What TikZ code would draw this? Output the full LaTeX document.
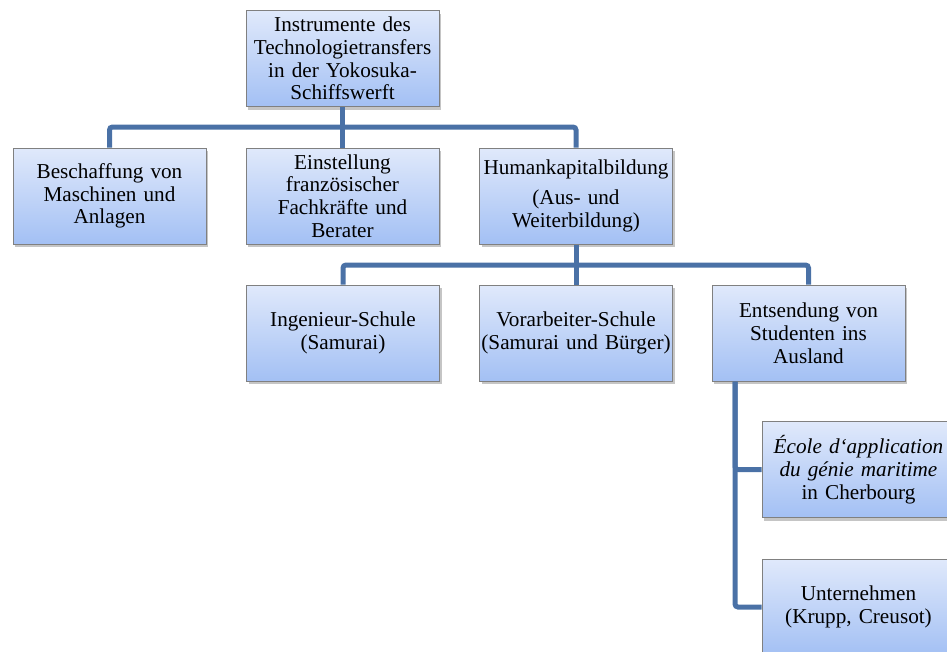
\documentclass[tikz,border=0pt]{standalone}
\usepackage{fontspec}
\setmainfont{Liberation Serif}
\usetikzlibrary{shadows}
\definecolor{lineblue}{HTML}{4A71A6}
\definecolor{boxtop}{HTML}{E0E9FB}
\definecolor{boxbot}{HTML}{A3C0F4}
\definecolor{boxborder}{HTML}{808080}
\tikzset{
  box/.style={draw=boxborder, line width=1pt, top color=boxtop, bottom color=boxbot,
    minimum width=193pt, minimum height=96pt, text width=192pt, align=center,
    inner sep=0pt, font=\fontsize{21.2}{22.8}\selectfont,
    drop shadow={shadow xshift=2pt, shadow yshift=-3pt, fill=black!45, opacity=0.5}},
  link/.style={draw=lineblue, line width=5pt, rounded corners=3pt}
}
\begin{document}
\begin{tikzpicture}[x=1pt,y=-1pt]
\useasboundingbox (0,0) rectangle (947,651);
\clip (0,0) rectangle (947,651);
\node[box] (top) at (342.5,58.5) {Instrumente des\\Technologietransfers\\in der Yokosuka-\\Schiffswerft};
\node[box] (b1) at (109.5,196) {Beschaffung von\\Maschinen und\\Anlagen};
\node[box] (b2) at (342.5,196) {Einstellung\\französischer\\Fachkräfte und\\Berater};
\node[box] (b3) at (576,196) {Humankapitalbildung\\[7pt](Aus- und\\Weiterbildung)};
\node[box] (b4) at (343,333) {Ingenieur-Schule\\(Samurai)};
\node[box] (b5) at (576,333) {Vorarbeiter-Schule\\(Samurai und Bürger)};
\node[box] (b6) at (808.5,333) {Entsendung von\\Studenten ins\\Ausland};
\node[box] (b7) at (858.5,469.5) {\textit{École d‘application}\\\textit{du génie maritime}\\in Cherbourg};
\node[box] (b8) at (858.5,607) {Unternehmen\\(Krupp, Creusot)};
\coordinate (bus1) at (342.5,127);
\coordinate (bus2) at (576,265);
\coordinate (vstart) at ([xshift=23.5pt]b6.south west);
\draw[link] (top.south) -- (b2.north);
\draw[link] (b1.north) |- (bus1) -| (b3.north);
\draw[link] (b3.south) -- (b5.north);
\draw[link] (b4.north) |- (bus2) -| (b6.north);
\draw[link] (vstart) |- (b7.west);
\draw[link] (vstart) |- (b8.west);
\end{tikzpicture}
\end{document}
